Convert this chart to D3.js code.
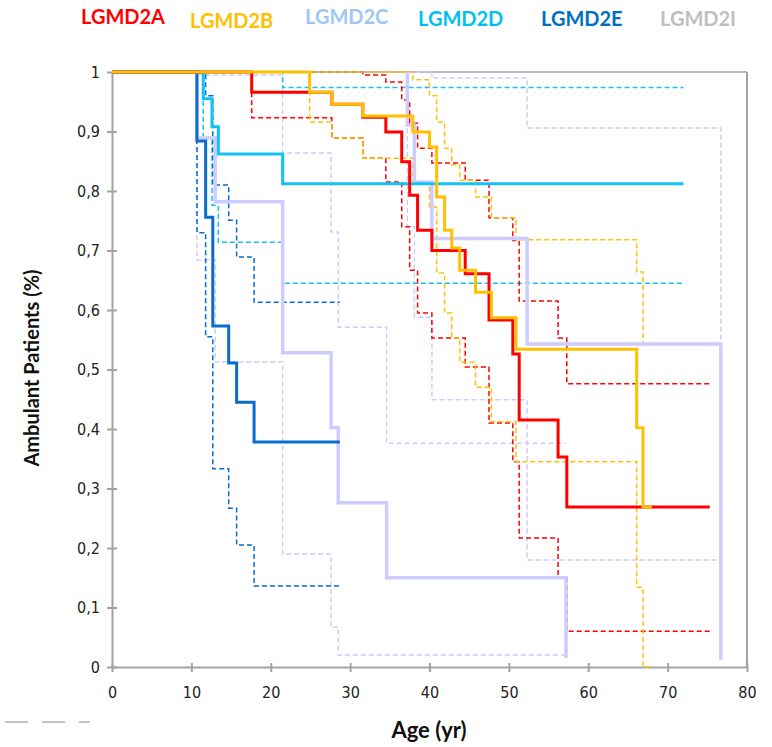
<!DOCTYPE html>
<html>
<head>
<meta charset="utf-8">
<script src="https://cdn.jsdelivr.net/npm/d3@7"></script>
<style>
  body { margin: 0; background: #fff; }
  .tick text { font-family: 'Liberation Sans Narrow', 'DejaVu Sans Condensed', sans-serif; font-size: 16px; fill: #222; }
  .title { font-family: Lato, 'Open Sans', sans-serif; font-weight: bold; fill: #111; }
  .legend text { font-family: Lato, 'Open Sans', sans-serif; font-weight: bold; font-size: 20px; }
</style>
</head>
<body>
<svg id="chart" width="772" height="747"></svg>
<script>
// group names and colours
const groups = ['LGMD2A', 'LGMD2B', 'LGMD2C', 'LGMD2D', 'LGMD2E', 'LGMD2I'];
const legendColors = ['#ff0000', '#ffc000', '#9dc8f5', '#00bff3', '#0070c0', '#bfbfbf'];

// Kaplan-Meier steps: age where each value starts, survival, upper and lower bound
const ages2A = [0, 17.6, 27.7, 31.6, 34.5, 36.5, 37.5, 38.5, 40.3, 44.5, 47.5, 50.5, 51.3, 56.2, 57.3, 75.3];
const surv2A = [1, 0.966, 0.946, 0.924, 0.899, 0.849, 0.793, 0.734, 0.700, 0.661, 0.583, 0.526, 0.415, 0.353, 0.269, 0.269];
const high2A = [1, 1, 1, 0.995, 0.983, 0.953, 0.914, 0.872, 0.847, 0.818, 0.755, 0.717, 0.615, 0.553, 0.476, 0.476];
const low2A = [1, 0.923, 0.889, 0.855, 0.815, 0.74, 0.667, 0.595, 0.553, 0.504, 0.41, 0.345, 0.217, 0.15, 0.06, 0.06];

const ages2B = [0, 24.9, 27.7, 31.6, 37.9, 40.0, 40.9, 41.9, 42.8, 43.8, 45.8, 47.8, 50.9, 66.1, 66.9, 68.0];
const surv2B = [1, 0.966, 0.946, 0.926, 0.899, 0.874, 0.790, 0.734, 0.704, 0.667, 0.630, 0.587, 0.534, 0.402, 0.269, 0.269];
const high2B = [1, 1, 1, 1, 0.987, 0.96, 0.916, 0.872, 0.844, 0.818, 0.79, 0.755, 0.718, 0.664, 0.543, 0.543];
const low2B = [1, 0.916, 0.889, 0.855, 0.815, 0.773, 0.662, 0.595, 0.553, 0.512, 0.47, 0.412, 0.345, 0.134, 0, 0];

const ages2C = [0, 10.7, 13.0, 21.5, 27.6, 28.5, 34.6, 57.2];
const surv2C = [1, 0.889, 0.782, 0.528, 0.402, 0.276, 0.150, 0.015];
const high2C = [1, 0.995, 0.995, 0.864, 0.731, 0.571, 0.376, 0.376];
const low2C = [1, 0.684, 0.513, 0.19, 0.067, 0.02, 0.02, 0.02];

const ages2D = [0, 11.5, 12.6, 13.4, 21.5, 72.0];
const surv2D = [1, 0.955, 0.908, 0.862, 0.812, 0.812];
const high2D = [1, 1, 1, 1, 0.974, 0.974];
const low2D = [1, 0.89, 0.776, 0.714, 0.645, 0.645];

const ages2E = [0, 10.7, 11.8, 12.7, 14.7, 15.7, 17.9, 28.7];
const surv2E = [1, 0.884, 0.756, 0.573, 0.511, 0.445, 0.378, 0.378];
const high2E = [1, 1, 0.96, 0.81, 0.751, 0.689, 0.613, 0.613];
const low2E = [1, 0.73, 0.555, 0.333, 0.267, 0.205, 0.136, 0.136];

// LGMD2I curve only begins at its first event
const ages2I = [37.2, 37.2, 38.1, 40.3, 52.3, 76.7];
const surv2I = [1, 0.911, 0.815, 0.720, 0.543, 0.012];
const high2I = [1, 1, 1, 0.99, 0.906, 0.543];
const low2I = [1, 0.74, 0.588, 0.449, 0.18, 0.18];

const xTicks = [0, 10, 20, 30, 40, 50, 60, 70, 80];
const yTicks = [0, 0.1, 0.2, 0.3, 0.4, 0.5, 0.6, 0.7, 0.8, 0.9, 1];

const svg = d3.select('#chart');

const x = d3.scaleLinear().domain([0, 80]).range([112, 747]);
const y = d3.scaleLinear().domain([0, 1]).range([667, 72]);

const axisColor = '#a3a3a3';

// frame on top and right
svg.append('line')
  .attr('x1', x(0)).attr('x2', x(80))
  .attr('y1', y(1)).attr('y2', y(1))
  .attr('stroke', axisColor).attr('stroke-width', 1.5);
svg.append('line')
  .attr('x1', x(80)).attr('x2', x(80))
  .attr('y1', y(1)).attr('y2', y(0))
  .attr('stroke', axisColor).attr('stroke-width', 2);

const xAxis = svg.append('g')
  .attr('transform', 'translate(0,' + y(0) + ')')
  .call(d3.axisBottom(x).tickValues(xTicks).tickSize(5).tickSizeOuter(0).tickPadding(15));

const yAxis = svg.append('g')
  .attr('transform', 'translate(' + x(0) + ',0)')
  .call(d3.axisLeft(y).tickValues(yTicks).tickSize(5).tickSizeOuter(0).tickPadding(7)
    .tickFormat(function (d) {
      if (d === 0 || d === 1) return String(d);
      return d3.format('.1f')(d).replace('.', ',');
    }));

[xAxis, yAxis].forEach(function (g) {
  g.select('.domain').attr('stroke', axisColor).attr('stroke-width', 2);
  g.selectAll('.tick line').attr('stroke', axisColor).attr('stroke-width', 2);
});
// ticks cross the axis line
xAxis.selectAll('.tick line').attr('y1', -4);
yAxis.selectAll('.tick line').attr('x1', -5).attr('x2', 5);

const stepLine = d3.line()
  .x(function (d) { return x(d[0]); })
  .y(function (d) { return y(d[1]); })
  .curve(d3.curveStepAfter);

function pairs(ages, values) {
  return ages.map(function (a, i) { return [a, values[i]]; });
}

const series = [
  { ages: ages2C, surv: surv2C, high: high2C, low: low2C, color: '#ccccff', width: 3.5 },
  { ages: ages2I, surv: surv2I, high: high2I, low: low2I, color: '#ccccff', width: 3.5 },
  { ages: ages2D, surv: surv2D, high: high2D, low: low2D, color: '#11c3f3', width: 3 },
  { ages: ages2E, surv: surv2E, high: high2E, low: low2E, color: '#0a6ccc', width: 3 },
  { ages: ages2A, surv: surv2A, high: high2A, low: low2A, color: '#ff0000', width: 3 },
  { ages: ages2B, surv: surv2B, high: high2B, low: low2B, color: '#ffc000', width: 3 }
];

// confidence bounds first, dashed
const bands = svg.append('g').attr('fill', 'none');
series.forEach(function (s) {
  [s.high, s.low].forEach(function (vals) {
    bands.append('path')
      .attr('d', stepLine(pairs(s.ages, vals)))
      .attr('stroke', s.color)
      .attr('stroke-width', 1.5)
      .attr('stroke-dasharray', '5,3');
  });
});

// survival curves on top
const curves = svg.append('g').attr('fill', 'none');
series.forEach(function (s) {
  curves.append('path')
    .attr('d', stepLine(pairs(s.ages, s.surv)))
    .attr('stroke', s.color)
    .attr('stroke-width', s.width);
});

// legend along the top
const legendX = [81, 190, 305, 418, 541, 660];
const legendY = [24, 28, 24, 26, 26, 26];
svg.append('g').attr('class', 'legend')
  .selectAll('text')
  .data(groups)
  .enter().append('text')
  .attr('x', function (d, i) { return legendX[i]; })
  .attr('y', function (d, i) { return legendY[i]; })
  .attr('fill', function (d, i) { return legendColors[i]; })
  .text(function (d) { return d; });

svg.append('text')
  .attr('class', 'title')
  .attr('transform', 'translate(39,368) rotate(-90)')
  .attr('text-anchor', 'middle')
  .attr('font-size', 20)
  .text('Ambulant Patients (%)');

svg.append('text')
  .attr('class', 'title')
  .attr('x', 429).attr('y', 738)
  .attr('text-anchor', 'middle')
  .attr('font-size', 22)
  .text('Age (yr)');

// leftover legend key marks in the corner
svg.append('line')
  .attr('x1', 5).attr('x2', 90)
  .attr('y1', 722).attr('y2', 722)
  .attr('stroke', '#888').attr('stroke-width', 1)
  .attr('stroke-dasharray', '23,14,23,14');
</script>
</body>
</html>
